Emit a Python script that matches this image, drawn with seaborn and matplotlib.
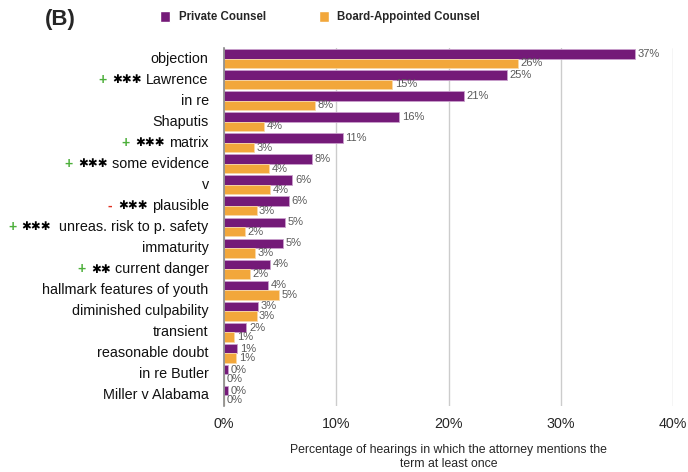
import matplotlib
matplotlib.use("Agg")
import matplotlib.pyplot as plt
import seaborn as sns
import pandas as pd
from matplotlib.patches import Patch

terms = ["objection", "Lawrence", "in re", "Shaputis", "matrix", "some evidence", "v",
         "plausible", " unreas. risk to p. safety", "immaturity", "current danger",
         "hallmark features of youth", "diminished culpability", "transient",
         "reasonable doubt", "in re Butler", "Miller v Alabama"]
signs = ["", "+", "", "", "+", "+", "", "-", "+", "", "+", "", "", "", "", "", ""]
stars = ["", "***", "", "", "***", "***", "", "***", "***", "", "**", "", "", "", "", "", ""]
private = [36.6, 25.2, 21.4, 15.6, 10.6, 7.8, 6.1, 5.8, 5.4, 5.3, 4.1, 3.9, 3.0, 2.0, 1.2, 0.4, 0.35]
board = [26.2, 15.0, 8.1, 3.6, 2.7, 4.0, 4.1, 2.9, 1.9, 2.8, 2.3, 4.9, 2.9, 0.9, 1.1, 0.0, 0.0]
series = ["Private Counsel", "Board-Appointed Counsel"]
xticks = [0, 10, 20, 30, 40]

PURPLE = "#741A78"
ORANGE = "#F2A73B"

df = pd.DataFrame({
    "term": terms * 2,
    "value": private + board,
    "series": [series[0]] * len(terms) + [series[1]] * len(terms),
})

sns.set_style("white")
plt.rcParams["font.family"] = ["Liberation Sans", "DejaVu Sans"]

fig = plt.figure(figsize=(6.88, 4.72), dpi=100)
ax = fig.add_axes([224 / 688, 1 - 406 / 472, (673 - 224) / 688, (406 - 48) / 472])

sns.barplot(data=df, y="term", x="value", hue="series", order=terms, hue_order=series,
            palette=[PURPLE, ORANGE], orient="h", width=0.9, ax=ax, legend=False,
            saturation=1)

for cont, ec in zip(ax.containers, ["#C9A0CC", "#F8D9A8"]):
    for p in cont:
        p.set_edgecolor(ec)
        p.set_linewidth(0.6)

# value labels
for cont in ax.containers:
    for bar in cont:
        w = bar.get_width()
        y = bar.get_y() + bar.get_height() / 2
        ax.annotate(f"{w:.0f}%", xy=(w, y), xytext=(1.8, 0), textcoords="offset points",
                    ha="left", va="center", fontsize=8.0, color="#5A5A5A")

ax.set_xlim(0, 40)
ax.set_ylim(len(terms) - 0.5, -0.5)
ax.set_xticks(xticks)
ax.set_xticklabels([f"{t}%" for t in xticks], fontsize=10.3)
ax.tick_params(axis="x", length=0, pad=8)
ax.set_yticks([])
ax.set_ylabel("")
ax.set_xlabel("Percentage of hearings in which the attorney mentions the\nterm at least once",
              fontsize=8.8, labelpad=9, linespacing=1.25)
ax.grid(axis="x", color="#CCCCCC", linewidth=1)
ax.set_axisbelow(True)
for s in ["top", "right", "bottom"]:
    ax.spines[s].set_visible(False)
ax.spines["left"].set_color("#888888")
ax.spines["left"].set_linewidth(1.2)

# y labels with colored prefixes
for i, t in enumerate(terms):
    main = ax.annotate(t, xy=(0, i), xycoords=("axes fraction", "data"),
                       xytext=(-11, 0), textcoords="offset points",
                       ha="right", va="center", fontsize=10.4, color="#111111")
    anchor = main
    if stars[i]:
        st = ax.annotate("\u2731" * len(stars[i]), xy=(0, 0.5), xycoords=anchor,
                         xytext=(-3, 0), textcoords="offset points", ha="right", va="center",
                         fontsize=8.5, color="black", family="DejaVu Sans", fontweight="bold")
        anchor = st
    if signs[i]:
        col = "#4CAF3A" if signs[i] == "+" else "#E03020"
        ax.annotate(signs[i], xy=(0, 0.5), xycoords=anchor, xytext=(-4, 0),
                    textcoords="offset points", ha="right", va="center",
                    fontsize=10, color=col, fontweight="bold")

# legend
handles = [Patch(facecolor=PURPLE), Patch(facecolor=ORANGE)]
leg = fig.legend(handles, series, loc="center", bbox_to_anchor=(320 / 688, 1 - 17 / 472),
                 ncol=2, frameon=False, handlelength=0.9, handleheight=1.08,
                 columnspacing=4.6, handletextpad=0.7,
                 prop={"weight": "bold", "size": 8.3})

fig.text(45 / 688, 1 - 19 / 472, "(B)", fontsize=16, fontweight="bold", ha="left",
         va="center")

fig.savefig("out.png", dpi=100)
